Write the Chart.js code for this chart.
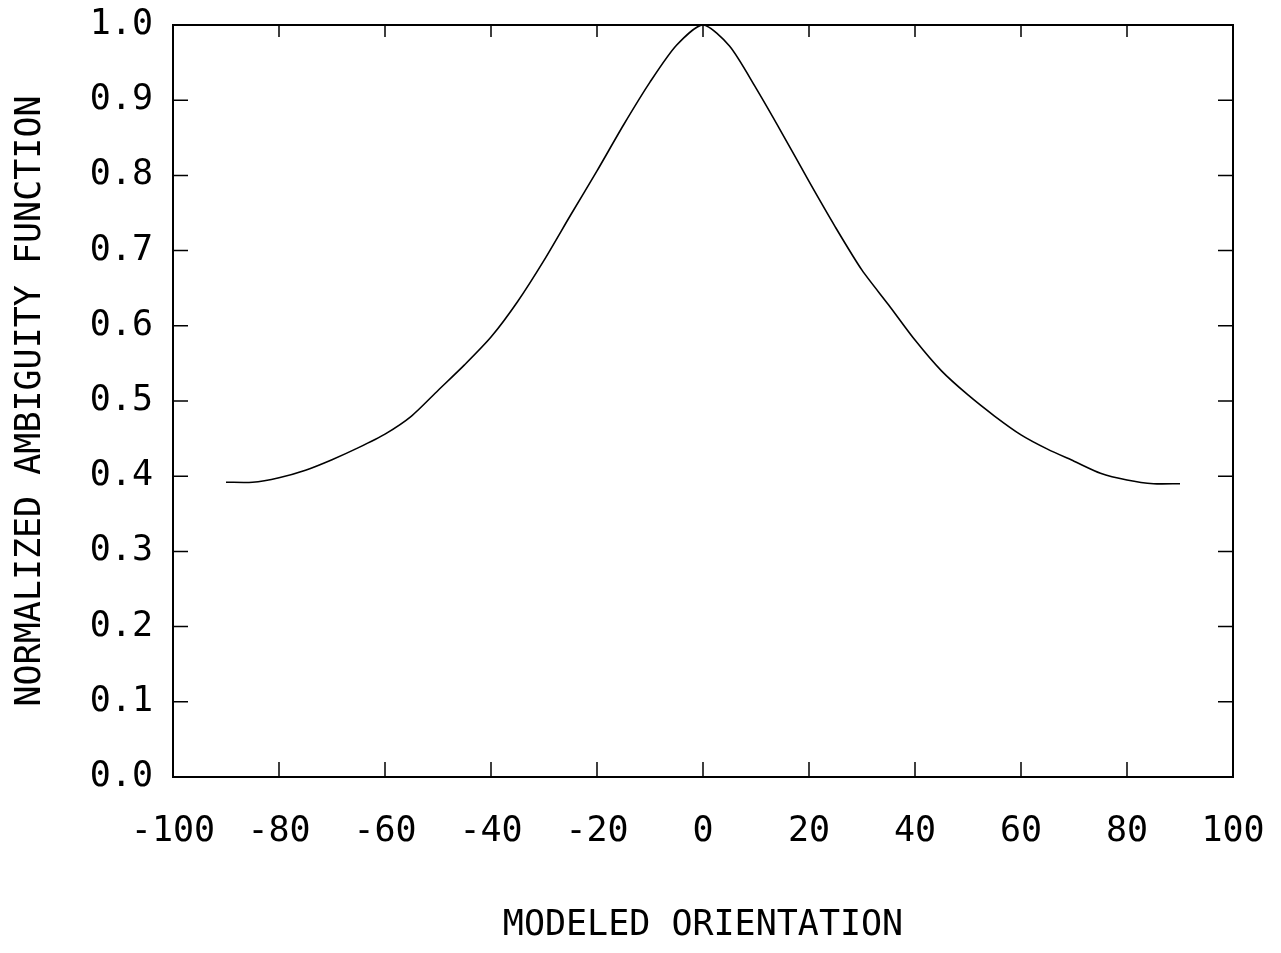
<!DOCTYPE html>
<html>
<head>
<meta charset="utf-8">
<script src="https://cdn.jsdelivr.net/npm/chart.js@4/dist/chart.umd.min.js"></script>
<style>
  html, body { margin: 0; padding: 0; background: #fff; }
  canvas { display: block; }
</style>
</head>
<body>
<canvas id="ambChart" width="1281" height="953"></canvas>
<script>
// modeled orientation (deg) and normalized ambiguity function
const orientation = [-90, -85, -80, -75, -70, -65, -60, -55, -50, -45, -40, -35, -30, -25, -20, -15, -10, -5, 0,
                     5, 10, 15, 20, 25, 30, 35, 40, 45, 50, 55, 60, 65, 70, 75, 80, 85, 90];
const ambiguity = [0.392, 0.392, 0.398, 0.408, 0.422, 0.438, 0.456, 0.480, 0.514, 0.548, 0.585, 0.632, 0.687, 0.747, 0.806, 0.867, 0.924, 0.973, 1.0,
                   0.972, 0.916, 0.855, 0.792, 0.731, 0.674, 0.628, 0.581, 0.540, 0.508, 0.480, 0.455, 0.436, 0.420, 0.404, 0.395, 0.390, 0.390];

const xTicks = [-100, -80, -60, -40, -20, 0, 20, 40, 60, 80, 100];
const yTicks = [0.0, 0.1, 0.2, 0.3, 0.4, 0.5, 0.6, 0.7, 0.8, 0.9, 1.0];

const xTitle = "MODELED ORIENTATION";
const yTitle = "NORMALIZED AMBIGUITY FUNCTION";

const FONT = "'DejaVu Sans Mono', 'Liberation Mono', monospace";

// box around the plot + inward tick marks on all four sides
const frame = {
  id: 'frame',
  afterDatasetsDraw(chart) {
    const ctx = chart.ctx;
    const a = chart.chartArea;
    const xs = chart.scales.x, ys = chart.scales.y;
    ctx.save();
    ctx.strokeStyle = '#000';
    ctx.lineWidth = 2;
    ctx.strokeRect(a.left, a.top, a.right - a.left, a.bottom - a.top);
    ctx.lineWidth = 1.5;
    ctx.beginPath();
    xTicks.forEach(v => {
      const px = xs.getPixelForValue(v);
      ctx.moveTo(px, a.bottom); ctx.lineTo(px, a.bottom - 15);
      ctx.moveTo(px, a.top); ctx.lineTo(px, a.top + 12);
    });
    yTicks.forEach(v => {
      const py = ys.getPixelForValue(v);
      ctx.moveTo(a.left, py); ctx.lineTo(a.left + 15, py);
      ctx.moveTo(a.right, py); ctx.lineTo(a.right - 15, py);
    });
    ctx.stroke();
    ctx.restore();
  }
};

const ctx = document.getElementById("ambChart").getContext("2d");
new Chart(ctx, {
  type: 'line',
  data: {
    datasets: [{
      data: orientation.map((x, i) => ({ x: x, y: ambiguity[i] })),
      borderColor: '#000',
      borderWidth: 1.6,
      pointRadius: 0,
      tension: 0.25,
      fill: false
    }]
  },
  options: {
    responsive: false,
    animation: false,
    devicePixelRatio: 1,
    layout: { padding: { top: 25, right: 48, left: 0, bottom: 0 } },
    plugins: { legend: { display: false }, tooltip: { enabled: false } },
    scales: {
      x: {
        type: 'linear',
        min: -100, max: 100,
        afterBuildTicks: s => { s.ticks = xTicks.map(v => ({ value: v })); },
        afterFit: s => { s.height = 176; s.paddingLeft = 0; s.paddingRight = 0; },
        grid: { display: false, drawTicks: false },
        border: { display: false },
        ticks: {
          color: '#000',
          padding: 34,
          maxRotation: 0,
          font: { family: FONT, size: 35 },
          callback: v => String(v)
        },
        title: {
          display: true, text: xTitle, color: '#000',
          font: { family: FONT, size: 35 },
          padding: { top: 0, bottom: 6 }
        }
      },
      y: {
        min: 0, max: 1,
        afterBuildTicks: s => { s.ticks = yTicks.map(v => ({ value: v })); },
        afterFit: s => { s.width = 173; s.paddingTop = 0; s.paddingBottom = 0; },
        grid: { display: false, drawTicks: false },
        border: { display: false },
        ticks: {
          color: '#000',
          padding: 20,
          font: { family: FONT, size: 35 },
          callback: v => Number(v).toFixed(1)
        },
        title: {
          display: true, text: yTitle, color: '#000',
          font: { family: FONT, size: 35 },
          padding: { top: 10, bottom: 0 }
        }
      }
    }
  },
  plugins: [frame]
});
</script>
</body>
</html>
